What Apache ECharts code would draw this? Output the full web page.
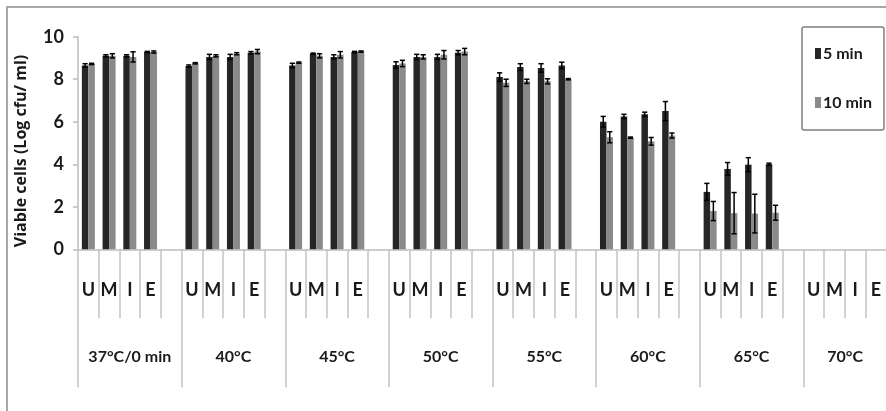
<!DOCTYPE html>
<html>
<head>
<meta charset="utf-8">
<script src="https://cdn.jsdelivr.net/npm/echarts@6/dist/echarts.min.js"></script>
<style>
html,body{margin:0;padding:0;background:#fff;}
#c{width:886px;height:411px;}
</style>
</head>
<body>
<div id="c"></div>
<script>
const groups = ['37°C/0 min','40°C','45°C','50°C','55°C','60°C','65°C','70°C'];
const subLabels = ['U','M','I','E'];
const fiveMin = [8.65,9.1,9.1,9.28, 8.62,9.05,9.05,9.25, 8.65,9.2,9.05,9.28, 8.67,9.05,9.05,9.25, 8.1,8.57,8.53,8.65, 6.0,6.25,6.35,6.5, 2.7,3.78,3.98,4.0, 0,0,0,0];
const fiveErr = [0.08,0.05,0.05,0.03, 0.05,0.12,0.12,0.05, 0.1,0.03,0.1,0.03, 0.15,0.12,0.12,0.1, 0.2,0.16,0.2,0.15, 0.25,0.1,0.1,0.45, 0.4,0.3,0.33,0.05, 0,0,0,0];
const tenMin = [8.72,9.1,9.05,9.28, 8.75,9.1,9.2,9.3, 8.78,9.1,9.15,9.3, 8.74,9.05,9.15,9.3, 7.83,7.9,7.9,8.0, 5.27,5.25,5.08,5.35, 1.8,1.7,1.68,1.72, 0,0,0,0];
const tenErr = [0.03,0.1,0.24,0.05, 0.03,0.05,0.05,0.1, 0.03,0.1,0.15,0.03, 0.15,0.1,0.2,0.15, 0.17,0.1,0.12,0.03, 0.26,0.03,0.18,0.12, 0.45,0.97,0.91,0.35, 0,0,0,0];
const yTicks = [0,2,4,6,8,10];

const FONT = "Lato,'Open Sans',sans-serif";

// build slot categories (4 sub labels + 1 blank per group)
const slots = [];
const fiveData = [];
const tenData = [];
const fiveErrData = [];
const tenErrData = [];
groups.forEach((g, gi) => {
  subLabels.forEach((s, si) => {
    const k = gi * 4 + si;
    const idx = slots.length;
    slots.push(s);
    fiveData.push(fiveMin[k]);
    tenData.push(tenMin[k]);
    if (fiveErr[k] > 0) fiveErrData.push([idx, fiveMin[k], fiveErr[k]]);
    if (tenErr[k] > 0) tenErrData.push([idx, tenMin[k], tenErr[k]]);
  });
  slots.push('');
  fiveData.push(null);
  tenData.push(null);
});

const BAR_W = 6.5;
function errRender(offset) {
  return function (params, api) {
    const i = api.value(0), v = api.value(1), e = api.value(2);
    const cx = api.coord([i, v])[0] + offset;
    const yh = api.coord([i, v + e])[1];
    const yl = api.coord([i, Math.max(0, v - e)])[1];
    const cap = 2.6;
    const st = { stroke: '#000', lineWidth: 1.5 };
    return {
      type: 'group',
      children: [
        { type: 'line', shape: { x1: cx, y1: yh, x2: cx, y2: yl }, style: st },
        { type: 'line', shape: { x1: cx - cap, y1: yh, x2: cx + cap, y2: yh }, style: st },
        { type: 'line', shape: { x1: cx - cap, y1: yl, x2: cx + cap, y2: yl }, style: st }
      ]
    };
  };
}

const groupAxisData = groups.map((g, i) => i === groups.length - 1 ? { value: g, textStyle: { padding: [0, 20, 0, 0] } } : g);

const chart = echarts.init(document.getElementById('c'), null, { renderer: 'canvas' });
chart.setOption({
  animation: false,
  backgroundColor: '#fff',
  graphic: [
    { type: 'rect', shape: { x: 7, y: 7, width: 920, height: 430 }, style: { fill: 'none', stroke: '#a8a8a8', lineWidth: 2 }, silent: true }
  ],
  legend: {
    orient: 'vertical',
    left: 802,
    top: 27,
    padding: [18, 12, 19, 13],
    itemGap: 32,
    itemWidth: 6,
    itemHeight: 11,
    icon: 'rect',
    borderColor: '#7f7f7f',
    borderWidth: 1.5,
    borderRadius: 2,
    textStyle: { fontFamily: FONT, fontSize: 16, fontWeight: 'bold', color: '#1a1a1a', lineHeight: 17, padding: [0, 0, 0, -3] },
    data: ['5 min', '10 min']
  },
  grid: { left: 78, top: 36.7, width: 829, height: 212.6, containLabel: false, outerBoundsMode: 'none' },
  xAxis: [
    {
      type: 'category',
      data: slots,
      position: 'bottom',
      axisLine: { show: true, lineStyle: { color: '#bdbdbd', width: 1.5 } },
      axisTick: { show: true, interval: 0, length: 69, lineStyle: { color: '#c4c4c4', width: 1.5 } },
      axisLabel: { interval: 0, margin: 32, fontFamily: FONT, fontSize: 18, fontWeight: 'bold', color: '#1a1a1a' },
      splitLine: { show: false }
    },
    {
      type: 'category',
      data: groupAxisData,
      position: 'bottom',
      axisLine: { show: false },
      axisTick: { show: true, interval: 0, length: 138, lineStyle: { color: '#c4c4c4', width: 1.5 } },
      axisLabel: { interval: 0, margin: 100, fontFamily: FONT, fontSize: 16, fontWeight: 'bold', color: '#1a1a1a' },
      splitLine: { show: false }
    }
  ],
  yAxis: {
    type: 'value',
    min: yTicks[0],
    max: yTicks[yTicks.length - 1],
    interval: 2,
    name: 'Viable cells (Log cfu/ ml)',
    nameLocation: 'middle',
    nameGap: 49,
    nameRotate: 90,
    nameTextStyle: { fontFamily: "'Open Sans',sans-serif", fontSize: 16, fontWeight: 'bold', color: '#1a1a1a', padding: [0, 16, 0, 0] },
    axisLine: { show: true, lineStyle: { color: '#bdbdbd', width: 1.5 } },
    axisTick: { show: true, length: 5, lineStyle: { color: '#bdbdbd', width: 1.5 } },
    axisLabel: { margin: 14, fontFamily: FONT, fontSize: 18, fontWeight: 'bold', color: '#1a1a1a' },
    splitLine: { show: false }
  },
  series: [
    { name: '5 min', type: 'bar', xAxisIndex: 0, data: fiveData, barWidth: BAR_W, barGap: '0%', itemStyle: { color: '#262626' } },
    { name: '10 min', type: 'bar', xAxisIndex: 0, data: tenData, barWidth: BAR_W, barGap: '0%', itemStyle: { color: '#8a8a8a' } },
    { type: 'custom', xAxisIndex: 0, data: fiveErrData, renderItem: errRender(-BAR_W / 2), encode: { x: 0, y: 1 }, z: 10, silent: true },
    { type: 'custom', xAxisIndex: 0, data: tenErrData, renderItem: errRender(BAR_W / 2), encode: { x: 0, y: 1 }, z: 10, silent: true }
  ]
});
</script>
</body>
</html>
